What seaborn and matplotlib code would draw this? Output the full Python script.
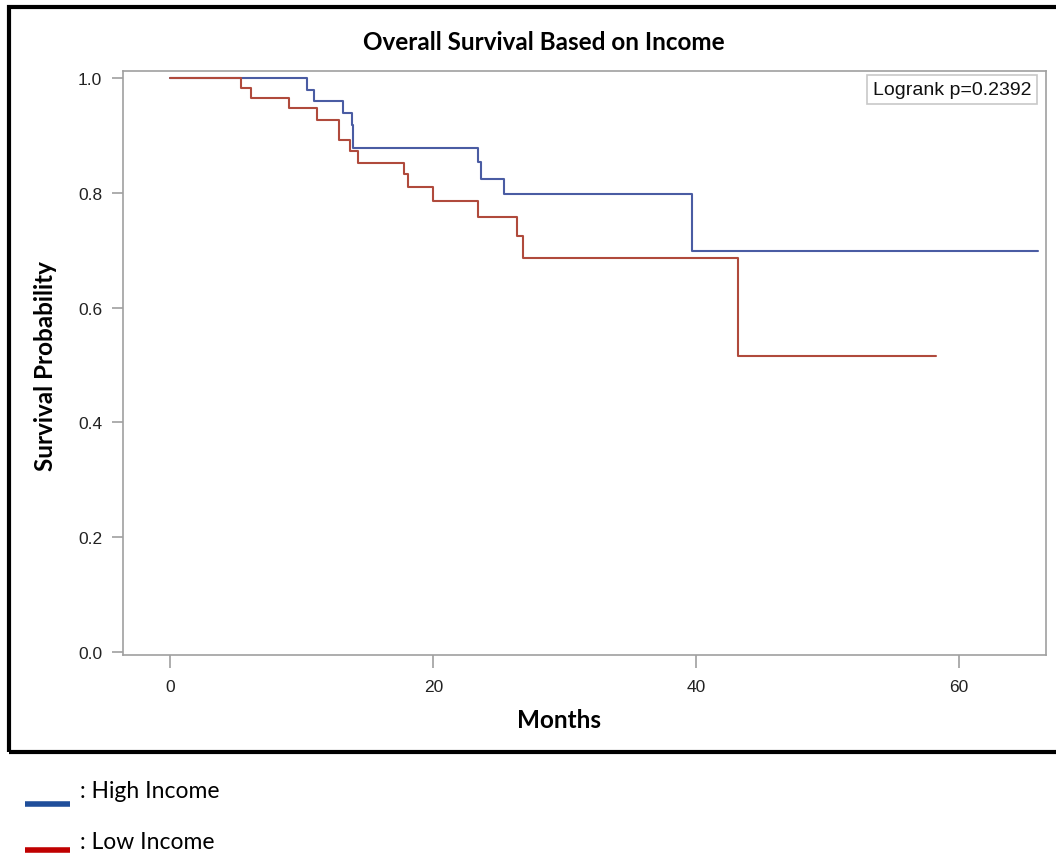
import pandas as pd
import matplotlib.pyplot as plt
import seaborn as sns
from matplotlib.lines import Line2D
from matplotlib.patches import Rectangle

# Kaplan-Meier step points
high_months = [0, 10.4, 10.9, 13.1, 13.8, 13.9, 23.4, 23.65, 25.4, 39.7, 66.0]
high_surv = [1.0, 0.979, 0.959, 0.939, 0.918, 0.878, 0.853, 0.824, 0.798, 0.698, 0.698]
low_months = [0, 5.4, 6.1, 9.05, 11.15, 12.8, 13.7, 14.3, 17.8, 18.1, 20.0, 23.4, 26.4, 26.8, 43.2, 58.2]
low_surv = [1.0, 0.982, 0.965, 0.947, 0.927, 0.891, 0.873, 0.852, 0.833, 0.810, 0.786, 0.758, 0.724, 0.686, 0.515, 0.515]
groups = ["High Income", "Low Income"]
x_ticks = [0, 20, 40, 60]
y_ticks = [0.0, 0.2, 0.4, 0.6, 0.8, 1.0]
p_text = "Logrank p=0.2392"

df = pd.concat([
    pd.DataFrame({"Months": high_months, "Survival": high_surv, "Group": groups[0]}),
    pd.DataFrame({"Months": low_months, "Survival": low_surv, "Group": groups[1]}),
])

sns.set_style("white")
plt.rcParams["font.family"] = ["Liberation Sans", "DejaVu Sans"]

W, H = 1056, 854
fig = plt.figure(figsize=(W / 100, H / 100), dpi=100)
ax = fig.add_axes([123 / W, 1 - 656 / H, 923 / W, 584 / H])

sns.lineplot(data=df, x="Months", y="Survival", hue="Group", estimator=None,
             palette={"High Income": "#4A5CA3", "Low Income": "#B04A3C"},
             drawstyle="steps-post", linewidth=1.5, legend=False, ax=ax)

ax.set_xlim(-3.6, 66.6)
ax.set_ylim(-0.005, 1.012)
ax.set_xticks(x_ticks)
ax.set_yticks(y_ticks)
ax.set_yticklabels([f"{v:.1f}" for v in y_ticks])
ax.set_xlabel("")
ax.set_ylabel("")
for s in ax.spines.values():
    s.set_color("#a0a0a0")
    s.set_linewidth(1.2)
ax.tick_params(axis="both", direction="out", width=1.2, color="#a0a0a0",
               labelsize=12.5, labelcolor="#222222", left=True, bottom=True)
ax.tick_params(axis="y", length=8, pad=7)
ax.tick_params(axis="x", length=9, pad=8)

bold = dict(family=["Lato", "DejaVu Sans"], fontweight="bold", fontsize=17.5, color="black")
fig.text(544 / W, 1 - 43 / H, "Overall Survival Based on Income", ha="center", va="center", **bold)
fig.text(559 / W, 1 - 721 / H, "Months", ha="center", va="center", **bold)
fig.text(46 / W, 1 - 366 / H, "Survival Probability", ha="center", va="center",
         rotation=90, **bold)

ax.text(0.984, 0.983, p_text, transform=ax.transAxes, ha="right", va="top",
        fontsize=14, color="#111111",
        bbox=dict(boxstyle="square,pad=0.3", fc="white", ec="#c8c8c8", lw=1.2))

# black frame around the chart
fig.patches.append(Rectangle((9 / W, 1 - 753 / H), 1.1, 745 / H,
                             transform=fig.transFigure, fill=False, ec="black", lw=3))

# legend drawn under the frame
leg_colors = ["#1F4E9A", "#C00000"]
leg_y = [1 - 805 / H, 1 - 851 / H]
txt_y = [1 - 792 / H, 1 - 843 / H]
for g, c, ly, ty in zip(groups, leg_colors, leg_y, txt_y):
    fig.add_artist(Line2D([25 / W, 70 / W], [ly, ly], color=c, lw=4,
                          solid_capstyle="butt", transform=fig.transFigure))
    fig.text(80 / W, ty, ": " + g, va="center", ha="left", fontsize=16.5,
             color="black", family=["Lato", "DejaVu Sans"])

fig.savefig("out.png", dpi=100)
